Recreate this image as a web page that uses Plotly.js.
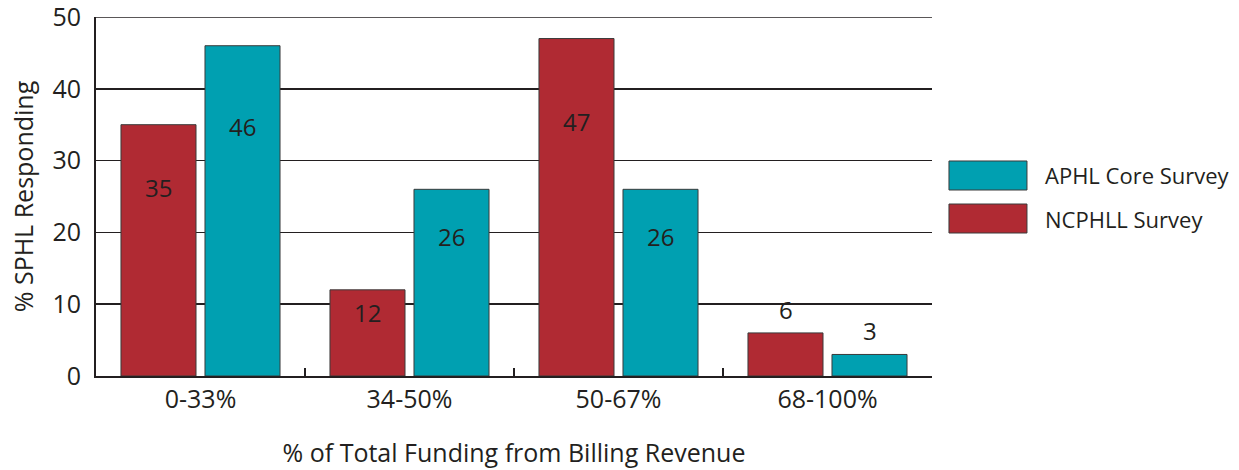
<!DOCTYPE html>
<html>
<head>
<meta charset="utf-8">
<script src="https://cdn.plot.ly/plotly-3.0.1.min.js"></script>
<style>html,body{margin:0;padding:0;background:#fff;}#chart{width:1239px;height:470px;}</style>
</head>
<body>
<div id="chart"></div>
<script>
const categories = ["0-33%", "34-50%", "50-67%", "68-100%"];
const ncphllValues = [35, 12, 47, 6];
const aphlValues = [46, 26, 26, 3];
const seriesNames = ["NCPHLL Survey", "APHL Core Survey"];
const yTicks = [0, 10, 20, 30, 40, 50];

const RED = "#B02A33", TEAL = "#00A0B1", INK = "#231F20";
const FONT = "Open Sans, Noto Sans, sans-serif";

const traces = [
  {type: "bar", name: seriesNames[0], x: categories, y: ncphllValues,
   marker: {color: RED, line: {color: "#3a3a3a", width: 1}}, hoverinfo: "x+y"},
  {type: "bar", name: seriesNames[1], x: categories, y: aphlValues,
   marker: {color: TEAL, line: {color: "#3a3a3a", width: 1}}, hoverinfo: "x+y"}
];

// value labels: inside (lower part) for tall bars, above for short bars
const annotations = [];
[ncphllValues, aphlValues].forEach((vals, si) => {
  vals.forEach((v, i) => {
    const inside = v >= 10;
    annotations.push({
      x: categories[i], y: inside ? v * 0.76 : v, xref: "x", yref: "y",
      xshift: si === 0 ? -42 : 42,
      yanchor: inside ? "middle" : "bottom", yshift: inside ? -2 : 5,
      text: String(v), showarrow: false,
      font: {family: FONT, size: 24, color: INK}
    });
  });
});

// custom legend
const legendItems = [[seriesNames[1], TEAL, 0.5585], [seriesNames[0], RED, 0.4387]];
const shapes = [
  {type: "line", xref: "paper", yref: "y", x0: 0, x1: 1, y0: 50, y1: 50,
   line: {color: INK, width: 1.5}, layer: "below"}
];
legendItems.forEach(([name, col, yc]) => {
  shapes.push({type: "rect", xref: "paper", yref: "paper",
    x0: 1.0203, x1: 1.1136, y0: yc - 0.0404, y1: yc + 0.0404,
    fillcolor: col, line: {color: "#3a3a3a", width: 1}});
  annotations.push({xref: "paper", yref: "paper", x: 1.133, y: yc,
    xanchor: "left", yanchor: "middle", text: name, showarrow: false,
    font: {family: FONT, size: 22, color: INK}});
});

const layout = {
  width: 1239, height: 470,
  margin: {l: 96, r: 307, t: 17, b: 94},
  paper_bgcolor: "#fff", plot_bgcolor: "#fff",
  showlegend: false,
  barmode: "group", bargap: 0.196, bargroupgap: 0.107,
  font: {family: FONT, color: INK},
  xaxis: {
    type: "category", showline: true, linecolor: INK, linewidth: 2,
    ticks: "inside", tickson: "boundaries", ticklen: 8, tickwidth: 2, tickcolor: INK,
    tickfont: {size: 25, color: INK}, showgrid: false,
    title: {text: "% of Total Funding from Billing Revenue", font: {size: 25, color: INK}, standoff: 30}
  },
  yaxis: {
    range: [0, 50], tickmode: "array", tickvals: yTicks, ticktext: yTicks.map(String),
    showline: true, linecolor: INK, linewidth: 2,
    showgrid: true, gridcolor: INK, gridwidth: 1.5, zeroline: false,
    ticks: "", tickfont: {size: 25, color: INK}, ticklabelstandoff: 8,
    ticklabeloverflow: "allow",
    title: {text: "% SPHL Responding", font: {size: 25, color: INK}, standoff: 12}
  },
  annotations: annotations,
  shapes: shapes
};

Plotly.newPlot("chart", traces, layout, {displayModeBar: false, staticPlot: true});
</script>
</body>
</html>
